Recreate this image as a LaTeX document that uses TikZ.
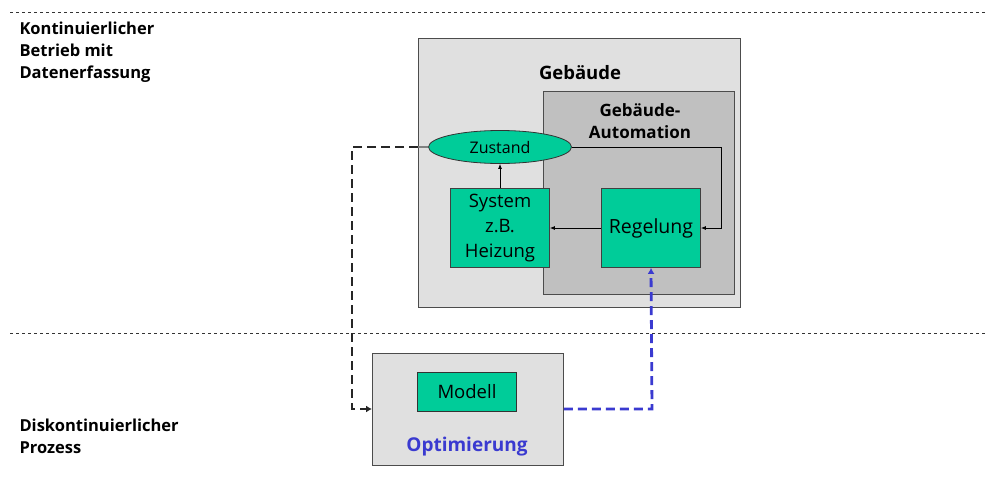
\documentclass[tikz,border=0pt]{standalone}
\usepackage{fontspec}
\setmainfont{Open Sans}
\usetikzlibrary{arrows.meta,shapes.geometric}
\definecolor{boxgreen}{HTML}{00CC99}
\definecolor{lightbg}{HTML}{E0E0E0}
\definecolor{midbg}{HTML}{C0C0C0}
\definecolor{optblue}{HTML}{3A3AD0}
\tikzset{
  x=1pt,y=-1pt,
  greenbox/.style={draw=black!75,fill=boxgreen,line width=0.8pt,minimum width=99pt,minimum height=79pt,align=center,font=\fontsize{18.5}{25}\selectfont,inner sep=0pt},
  region/.style={draw=black!70,line width=0.8pt,anchor=north west,inner sep=0pt},
  sep/.style={dashed,dash pattern=on 3pt off 3pt,line width=0.6pt,black!80},
  flow/.style={-{Latex[length=5pt,width=4pt]},line width=0.8pt},
  datapath/.style={dashed,dash pattern=on 9pt off 5pt,line width=2.8pt,-{Latex[length=6pt,width=7pt]}},
  lbl/.style={font=\bfseries\fontsize{16.5}{22}\selectfont,align=left,anchor=west},
}
\begin{document}
\begin{tikzpicture}
\useasboundingbox (0,0) rectangle (986,477);
% section separators
\draw[sep] (10,12) -- (986,12);
\draw[sep] (10,333) -- (986,333);
% section titles
\node[lbl] (cont) at (16,52) {Kontinuierlicher\\Betrieb mit\\Datenerfassung};
\node[lbl] (disc) at (16,436) {Diskontinuierlicher\\Prozess};
% building and its automation
\node[region,fill=lightbg,minimum width=322pt,minimum height=269pt] (bldg) at (418,38) {};
\node[font=\bfseries\fontsize{18.5}{22}\selectfont] (bldglbl) at (580,73) {Gebäude};
\node[region,fill=midbg,minimum width=191pt,minimum height=203pt] (auto) at (543,91) {};
\node[font=\bfseries\fontsize{17}{22}\selectfont,align=center] (autolbl) at (640,121) {Gebäude-\\Automation};
\node[ellipse,draw=black!80,fill=boxgreen,line width=0.8pt,minimum width=143pt,minimum height=33pt,inner sep=0pt,font=\fontsize{16}{18}\selectfont] (state) at (500,147) {Zustand};
\node[greenbox] (sys) at (500,228) {System\\z.B.\\Heizung};
\node[greenbox,font=\fontsize{19.5}{25}\selectfont] (ctrl) at (651,228) {Regelung};
\coordinate (loop) at (721,147);
\draw[flow] (state.east) -- (loop) |- (ctrl.east);
\draw[flow] (ctrl.west) -- (sys.east);
\draw[flow] (sys.north) -- (state.south);
% optimisation
\node[region,fill=lightbg,minimum width=191pt,minimum height=112pt] (opt) at (372,353) {};
\node[draw=black!80,fill=boxgreen,line width=0.8pt,minimum width=99pt,minimum height=39pt,inner sep=0pt,font=\fontsize{18.5}{20}\selectfont] (model) at (467,392) {Modell};
\node[font=\bfseries\fontsize{19}{22}\selectfont,text=optblue] (optlbl) at (467,447) {Optimierung};
% data paths
\coordinate (dl1) at (352,147);
\coordinate (dl2) at (352,409);
\coordinate (bl1) at (652,409);
\draw[black!50,line width=1.4pt] (bldg.west |- state.west) -- (state.west);
\draw[datapath,black!85] (bldg.west |- state.west) -- (dl1) -- (dl2) -- (dl2 -| opt.west);
\draw[datapath,optblue] (opt.east |- dl2) -- (bl1) -- (ctrl.south);
\end{tikzpicture}
\end{document}
